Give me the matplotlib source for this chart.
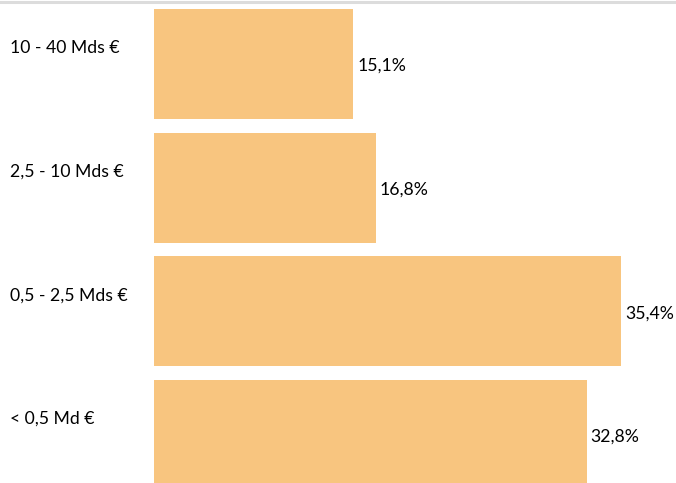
import matplotlib
matplotlib.use("Agg")
import matplotlib.pyplot as plt
from matplotlib.lines import Line2D

categories = ["10 - 40 Mds €", "2,5 - 10 Mds €", "0,5 - 2,5 Mds €", "< 0,5 Md €"]
values = [15.1, 16.8, 35.4, 32.8]
value_labels = ["15,1%", "16,8%", "35,4%", "32,8%"]

plt.rcParams['font.family'] = ['Lato', 'DejaVu Sans']

W, H = 676, 483
fig = plt.figure(figsize=(W / 100, H / 100), dpi=100)
ax_left = 154 / W
ax = fig.add_axes([ax_left, 0, 1 - ax_left, 1])
ax.set_axis_off()

pos = list(range(len(categories)))
ax.barh(pos, values, height=0.89, color="#F8C57F")
ax.set_xlim(0, 522 / 13.19)
ax.set_ylim(3.387, -0.517)

px = 1 / 13.19  # data units per pixel in x
py = 1 / 123.7  # data units per pixel in y
for i, (c, v, lab) in enumerate(zip(categories, values, value_labels)):
    ax.text((10 - 154) * px, i - 16 * py, c, ha="left", va="center",
            fontsize=12.7, color="#000000", clip_on=False)
    ax.text(v + 4 * px, i + 2 * py, lab, ha="left", va="center",
            fontsize=12.7, color="#000000", clip_on=False)

fig.add_artist(Line2D([0, 1], [1 - 1.5 / H, 1 - 1.5 / H], transform=fig.transFigure,
                      color="#dcdcdc", linewidth=2.2))

fig.savefig("out.png", dpi=100)
